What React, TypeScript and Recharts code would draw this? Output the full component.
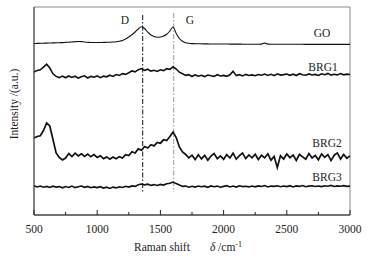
import React from 'react';
import { LineChart, Line, XAxis, YAxis, ReferenceLine, ReferenceArea } from 'recharts';

const ramanShift = [
  500, 525, 550, 575, 600, 625, 650, 675, 700, 725,
  750, 775, 800, 825, 850, 875, 900, 925, 950, 975,
  1000, 1025, 1050, 1075, 1100, 1125, 1150, 1175, 1200, 1225,
  1250, 1275, 1300, 1325, 1350, 1375, 1400, 1425, 1450, 1475,
  1500, 1525, 1550, 1575, 1600, 1625, 1650, 1675, 1700, 1725,
  1750, 1775, 1800, 1825, 1850, 1875, 1900, 1925, 1950, 1975,
  2000, 2025, 2050, 2075, 2100, 2125, 2150, 2175, 2200, 2225,
  2250, 2275, 2300, 2325, 2350, 2375, 2400, 2425, 2450, 2475,
  2500, 2525, 2550, 2575, 2600, 2625, 2650, 2675, 2700, 2725,
  2750, 2775, 2800, 2825, 2850, 2875, 2900, 2925, 2950, 2975, 3000,
];

const goSeries = [
  171.5, 171.6, 171.7, 171.8, 171.9, 172.0, 172.1, 172.2, 172.3, 172.4,
  172.6, 172.8, 173.0, 173.3, 173.5, 173.4, 173.0, 172.7, 172.5, 172.5,
  172.5, 172.5, 172.6, 172.7, 172.8, 173.0, 173.3, 173.8, 174.6, 176.0,
  178.0, 180.3, 183.0, 186.0, 188.3, 186.5, 182.8, 180.0, 178.5, 177.8,
  178.0, 179.0, 180.8, 184.0, 188.0, 181.5, 176.5, 173.8, 172.3, 171.7,
  171.4, 171.3, 171.2, 171.2, 171.1, 171.1, 171.0, 171.0, 171.0, 171.0,
  171.0, 171.0, 170.9, 170.9, 170.9, 170.9, 170.8, 170.8, 170.8, 170.8,
  170.8, 170.8, 170.9, 171.9, 170.9, 170.8, 170.8, 170.7, 170.7, 170.7,
  170.7, 170.7, 170.7, 170.7, 170.7, 170.7, 170.6, 170.6, 170.6, 170.6,
  170.6, 170.6, 170.6, 170.6, 170.6, 170.6, 170.6, 170.6, 170.6, 170.6, 170.6,
];

const brg1Series = [
  143.0, 144.6, 145.2, 147.8, 150.8, 147.0, 141.2, 138.6, 137.4, 138.9,
  137.2, 139.0, 137.5, 138.8, 136.9, 138.3, 139.2, 137.0, 138.6, 137.8,
  139.1, 137.3, 138.9, 138.2, 139.8, 138.6, 140.5, 139.6, 141.4, 140.6,
  142.3, 144.1, 143.2, 145.3, 146.4, 144.6, 145.8, 143.9, 144.7, 143.6,
  145.2, 144.4, 146.3, 145.6, 148.2, 146.0, 142.8, 141.3, 139.6, 140.4,
  138.5, 140.1, 138.8, 139.7, 138.4, 140.0, 139.2, 138.6, 140.3, 139.0,
  139.6, 138.7, 140.2, 143.8, 139.4, 140.3, 139.1, 140.6, 139.5, 140.1,
  139.3, 140.5, 139.8, 140.9, 139.6, 140.7, 139.4, 141.2, 139.9, 140.4,
  141.0, 139.7, 140.8, 139.5, 141.3, 140.2, 139.8, 141.1, 140.0, 140.6,
  139.6, 141.2, 140.3, 141.6, 139.9, 140.8, 140.1, 141.4, 140.2, 140.9, 140.5,
];

const brg2Series = [
  77.0, 78.5, 79.2, 84.5, 92.0, 89.0, 75.5, 62.0, 57.5, 55.0,
  57.0, 61.5, 58.5, 61.8, 59.0, 61.2, 58.6, 60.9, 58.2, 60.4,
  57.6, 59.3, 56.4, 58.1, 55.8, 57.9, 56.2, 58.4, 57.0, 60.3,
  59.5, 63.2, 62.0, 66.1, 64.8, 68.5, 67.0, 70.3, 69.1, 72.6,
  71.8, 75.2, 74.4, 78.6, 83.0, 77.5, 68.0, 63.0, 60.5, 57.2,
  59.8, 55.4, 60.2, 56.1, 59.6, 54.8, 58.9, 61.5, 56.3, 59.1,
  55.7, 60.4, 57.0, 61.8, 55.9, 59.3, 62.0, 56.4, 60.1, 57.2,
  60.8, 55.5, 59.7, 57.1, 61.2, 54.9, 58.6, 47.5, 59.4, 56.0,
  61.0, 57.3, 59.9, 54.6, 60.7, 58.2, 55.8, 61.4, 57.0, 59.6,
  55.2, 61.1, 57.6, 60.3, 54.4, 59.8, 62.1, 55.9, 60.5, 56.7, 59.2,
];

const brg3Series = [
  29.2, 28.1, 29.0, 27.8, 28.6, 27.5, 28.8, 27.9, 28.4, 27.2,
  28.5, 27.6, 28.9, 27.4, 28.2, 29.0, 27.7, 28.6, 27.3, 28.1,
  27.4, 28.3, 26.9, 27.8, 26.6, 27.9, 27.1, 28.2, 27.5, 28.7,
  27.9, 29.1, 28.6, 30.2, 31.0, 30.1, 30.8, 29.6, 30.4, 29.5,
  30.6, 29.9, 31.2, 31.8, 33.0, 31.4, 30.0, 28.6, 28.9, 27.8,
  28.7, 27.9, 29.0, 28.2, 28.8, 27.7, 29.1, 28.3, 28.9, 27.8,
  28.6, 29.3, 28.0, 28.9, 27.9, 29.2, 28.4, 28.8, 28.1, 29.0,
  28.2, 29.1, 28.5, 29.4, 28.0, 28.9, 28.6, 29.2, 28.3, 29.0,
  28.4, 29.3, 28.1, 29.1, 28.6, 29.5, 28.3, 28.9, 29.2, 28.5,
  29.0, 28.4, 29.3, 28.7, 29.6, 28.5, 29.1, 28.8, 29.4, 28.6, 28.9,
];

const xTicks = [500, 750, 1000, 1250, 1500, 1750, 2000, 2250, 2500, 2750, 3000];
const peakD = 1360;
const peakG = 1605;

const data = ramanShift.map((x, i) => ({
  x,
  go: goSeries[i],
  brg1: brg1Series[i],
  brg2: brg2Series[i],
  brg3: brg3Series[i],
}));

const FONT = '"Liberation Serif", "Times New Roman", serif';

const Tick = (props: any) => {
  const { x, y, payload } = props;
  const major = payload.value % 500 === 0;
  return (
    <g>
      <line x1={x} x2={x} y1={y} y2={y - (major ? 5 : 3)} stroke="#222" strokeWidth={1} />
      {major && (
        <text x={x} y={y + 18} textAnchor="middle" fontFamily={FONT} fontSize={11.5} fill="#222">
          {payload.value}
        </text>
      )}
    </g>
  );
};

const textStyle = { fontFamily: FONT, fontSize: 11.5, fill: '#222' };

export default function App() {
  return (
    <div style={{ position: 'absolute', left: 0, top: 0, background: '#fff' }}>
      <LineChart width={377} height={259} data={data} margin={{ top: 7, right: 27, bottom: 0, left: 0 }}>
        <ReferenceArea x1={500} x2={3000} y1={0} y2={208} fill="none" stroke="#888" strokeWidth={1} ifOverflow="visible" />
        <XAxis
          dataKey="x"
          type="number"
          domain={[500, 3000]}
          ticks={xTicks}
          height={44}
          tickSize={0}
          tickMargin={0}
          tickLine={false}
          tick={<Tick />}
          axisLine={{ stroke: '#222' }}
          interval={0}
        />
        <YAxis type="number" domain={[0, 208]} width={34} tick={false} tickLine={false} axisLine={{ stroke: '#444' }} />
        <ReferenceLine segment={[{ x: peakD, y: 200 }, { x: peakD, y: 23 }]} stroke="#111" strokeWidth={1} strokeDasharray="5 2 1.5 2" />
        <ReferenceLine segment={[{ x: peakG, y: 202 }, { x: peakG, y: 23 }]} stroke="#999" strokeWidth={1} strokeDasharray="5 2 1.5 2" />
        <Line type="monotone" dataKey="go" stroke="#111" strokeWidth={1.1} dot={false} isAnimationActive={false} />
        <Line type="linear" dataKey="brg1" stroke="#111" strokeWidth={1.6} dot={false} isAnimationActive={false} />
        <Line type="linear" dataKey="brg2" stroke="#111" strokeWidth={1.7} dot={false} isAnimationActive={false} />
        <Line type="linear" dataKey="brg3" stroke="#111" strokeWidth={1.6} dot={false} isAnimationActive={false} />
        <text x={125} y={24} textAnchor="middle" {...textStyle}>D</text>
        <text x={190} y={24} textAnchor="middle" {...textStyle}>G</text>
        <text x={322} y={37} textAnchor="middle" {...textStyle}>GO</text>
        <text x={323} y={71} textAnchor="middle" {...textStyle}>BRG1</text>
        <text x={327} y={147} textAnchor="middle" {...textStyle}>BRG2</text>
        <text x={327} y={181} textAnchor="middle" {...textStyle}>BRG3</text>
        <text x={188} y={251} textAnchor="middle" {...textStyle}>
          <tspan>Raman shift</tspan>
          <tspan dx={20} fontStyle="italic">δ</tspan>
          <tspan> /cm</tspan>
          <tspan fontSize={8} dy={-4}>-1</tspan>
        </text>
        <text x={18} y={104} textAnchor="middle" transform="rotate(-90 18 104)" {...textStyle}>
          Intensity /(a.u.)
        </text>
      </LineChart>
    </div>
  );
}
